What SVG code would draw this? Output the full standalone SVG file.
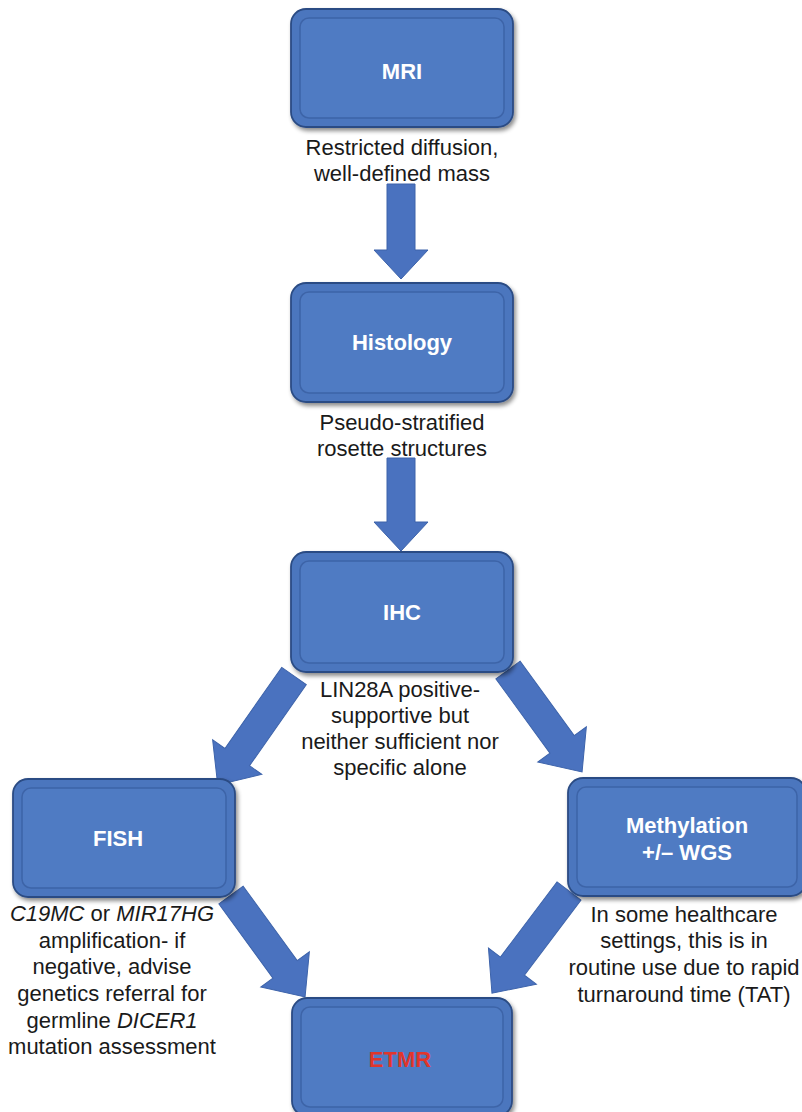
<svg xmlns="http://www.w3.org/2000/svg" width="802" height="1112" viewBox="0 0 802 1112">
<defs>
<style>
.box{fill:#4b76be;stroke:#2c4c84;stroke-width:1.8}
.bev{fill:#4f7bc3;stroke:#3d64a8;stroke-width:1.5}
.lbl{font-family:"Liberation Sans",Arial,sans-serif;font-weight:bold;font-size:22px;fill:#ffffff;text-anchor:middle}
.red{fill:#e0362b}
.txt{font-family:"Liberation Sans",Arial,sans-serif;font-size:22px;fill:#1a1a1a;text-anchor:middle}
.arr{fill:#4a72bf;stroke:#3d63aa;stroke-width:1}
</style>
<filter id="sh" x="-10%" y="-10%" width="125%" height="130%">
<feDropShadow dx="2" dy="3" stdDeviation="2" flood-color="#000" flood-opacity="0.45"/>
</filter>
</defs>
<rect width="802" height="1112" fill="#ffffff"/>

<g id="connectors">
<polygon class="arr" transform="translate(401,184)" points="-14,0 14,0 14,66 27,66 0,95 -27,66 -14,66"/>
<polygon class="arr" transform="translate(401,458)" points="-14,0 14,0 14,64 27,64 0,93 -27,64 -14,64"/>
<polygon class="arr" transform="translate(294,676) rotate(35)" points="-15,0 15,0 15,99 30,99 0,133 -30,99 -15,99"/>
<polygon class="arr" transform="translate(508,670) rotate(-36)" points="-15,0 15,0 15,92 30,92 0,126 -30,92 -15,92"/>
<polygon class="arr" transform="translate(231,895) rotate(-36)" points="-15,0 15,0 15,92 30,92 0,126 -30,92 -15,92"/>
<polygon class="arr" transform="translate(569,891) rotate(37)" points="-15,0 15,0 15,94 30,94 0,128 -30,94 -15,94"/>
</g>

<g id="mri">
<rect class="box" filter="url(#sh)" x="291" y="9" width="222" height="118" rx="15"/>
<rect class="bev" x="300" y="18" width="204" height="100" rx="9"/>
<text class="lbl" x="402" y="79">MRI</text>
<text class="txt" x="402" y="155">Restricted diffusion,</text>
<text class="txt" x="402" y="181">well-defined mass</text>
</g>

<g id="histology">
<rect class="box" filter="url(#sh)" x="291" y="283" width="222" height="119" rx="15"/>
<rect class="bev" x="300" y="292" width="204" height="101" rx="9"/>
<text class="lbl" x="402" y="350">Histology</text>
<text class="txt" x="402" y="430">Pseudo-stratified</text>
<text class="txt" x="402" y="456">rosette structures</text>
</g>

<g id="ihc">
<rect class="box" filter="url(#sh)" x="291" y="552" width="222" height="120" rx="15"/>
<rect class="bev" x="300" y="561" width="204" height="102" rx="9"/>
<text class="lbl" x="402" y="620">IHC</text>
<text class="txt" x="400" y="697">LIN28A positive-</text>
<text class="txt" x="400" y="723">supportive but</text>
<text class="txt" x="400" y="749">neither sufficient nor</text>
<text class="txt" x="400" y="775">specific alone</text>
</g>

<g id="fish">
<rect class="box" filter="url(#sh)" x="13" y="779" width="222" height="118" rx="15"/>
<rect class="bev" x="22" y="788" width="204" height="100" rx="9"/>
<text class="lbl" x="118" y="846">FISH</text>
<text class="txt" x="112" y="921"><tspan font-style="italic">C19MC</tspan> or <tspan font-style="italic">MIR17HG</tspan></text>
<text class="txt" x="112" y="948">amplification- if</text>
<text class="txt" x="112" y="974">negative, advise</text>
<text class="txt" x="112" y="1001">genetics referral for</text>
<text class="txt" x="112" y="1028">germline <tspan font-style="italic">DICER1</tspan></text>
<text class="txt" x="112" y="1054">mutation assessment</text>
</g>

<g id="methylation">
<rect class="box" filter="url(#sh)" x="568" y="778" width="238" height="118" rx="15"/>
<rect class="bev" x="577" y="787" width="220" height="100" rx="9"/>
<text class="lbl" x="687" y="833">Methylation</text>
<text class="lbl" x="687" y="860">+/– WGS</text>
<text class="txt" x="684" y="922">In some healthcare</text>
<text class="txt" x="684" y="948">settings, this is in</text>
<text class="txt" x="684" y="975">routine use due to rapid</text>
<text class="txt" x="684" y="1002">turnaround time (TAT)</text>
</g>

<g id="etmr">
<rect class="box" filter="url(#sh)" x="292" y="998" width="220" height="118" rx="15"/>
<rect class="bev" x="301" y="1007" width="202" height="100" rx="9"/>
<text class="lbl red" x="400" y="1067">ETMR</text>
</g>
</svg>
